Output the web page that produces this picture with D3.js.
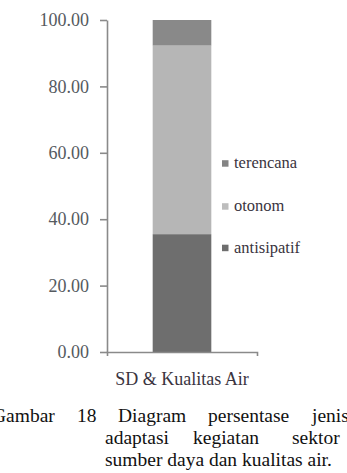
<!DOCTYPE html>
<html>
<head>
<meta charset="utf-8">
<script src="https://cdnjs.cloudflare.com/ajax/libs/d3/7.8.5/d3.min.js"></script>
<style>
html, body { margin: 0; padding: 0; background: #fff; }
svg { display: block; }
svg text { font-family: "Liberation Serif", "DejaVu Serif", serif; }
</style>
</head>
<body>
<svg id="chart" width="347" height="473"></svg>
<script>
// ---- data ----
const categories = ["SD & Kualitas Air"];
const seriesNames = ["antisipatif", "otonom", "terencana"];
const antisipatif = [35.5];
const otonom = [56.8];
const terencana = [7.7];
const yTicks = [0, 20, 40, 60, 80, 100];
const legendOrder = ["terencana", "otonom", "antisipatif"];
const captionLine1 = ["Gambar", "18", "Diagram", "persentase", "jenis"];
const captionLine2 = ["adaptasi", "kegiatan", "sektor"];
const captionLine3 = "sumber daya dan kualitas air.";

const colors = { antisipatif: "#6e6e6e", otonom: "#b6b6b6", terencana: "#898989" };
const legendColors = { antisipatif: "#6e6e6e", otonom: "#bdbdbd", terencana: "#848484" };

const svg = d3.select("#chart");

const y = d3.scaleLinear().domain([0, 100]).range([352, 20]);
const x = d3.scaleBand().domain(categories).range([107, 257]).paddingInner(0.438).paddingOuter(0.438);

const rows = categories.map((c, i) => ({ cat: c, antisipatif: antisipatif[i], otonom: otonom[i], terencana: terencana[i] }));
const stack = d3.stack().keys(seriesNames)(rows);

// bars
svg.append("g").selectAll("g").data(stack).join("g")
  .attr("fill", d => colors[d.key])
  .selectAll("rect").data(d => d).join("rect")
  .attr("x", d => x(d.data.cat))
  .attr("width", x.bandwidth())
  .attr("y", d => y(d[1]))
  .attr("height", d => y(d[0]) - y(d[1]));

// y axis
const yAxis = svg.append("g").attr("transform", "translate(107,0)")
  .call(d3.axisLeft(y).tickValues(yTicks).tickFormat(d3.format(".2f")).tickSizeInner(7).tickSizeOuter(0).tickPadding(11));
yAxis.attr("font-family", null);
yAxis.selectAll("path, line").attr("stroke", "#8a8a8a").attr("stroke-width", 1.6);
yAxis.selectAll("text").attr("font-size", 18).attr("fill", "#555a60");

// x axis
const xAxis = svg.append("g").attr("transform", "translate(0,352)")
  .call(d3.axisBottom(x).tickSizeInner(0).tickSizeOuter(4).tickPadding(20));
xAxis.attr("font-family", null);
xAxis.selectAll("path, line").attr("stroke", "#8a8a8a").attr("stroke-width", 1.6);
xAxis.selectAll("text").attr("font-size", 18).attr("fill", "#3a3440");

// legend
const legendY = { terencana: 163.5, otonom: 206.5, antisipatif: 248 };
const lg = svg.append("g").selectAll("g").data(legendOrder).join("g")
  .attr("transform", d => `translate(222,${legendY[d]})`);
lg.append("rect").attr("x", 0).attr("y", -3.3).attr("width", 6.5).attr("height", 6.5)
  .attr("fill", d => legendColors[d]);
lg.append("text").attr("x", 12).attr("y", 4.5).text(d => d)
  .attr("font-size", 16.5).attr("fill", "#3a3440");

// caption
const cap = svg.append("g").attr("font-size", 19.5).attr("fill", "#111");
const line1X = [-8, 77, 118, 208, 312];
const line2X = [105, 193, 292];
cap.selectAll("text.l1").data(captionLine1).join("text").attr("class", "l1")
  .attr("x", (d, i) => line1X[i]).attr("y", 422).text(d => d);
cap.selectAll("text.l2").data(captionLine2).join("text").attr("class", "l2")
  .attr("x", (d, i) => line2X[i]).attr("y", 444).text(d => d);
cap.append("text").attr("x", 105).attr("y", 466).text(captionLine3);
</script>
</body>
</html>
